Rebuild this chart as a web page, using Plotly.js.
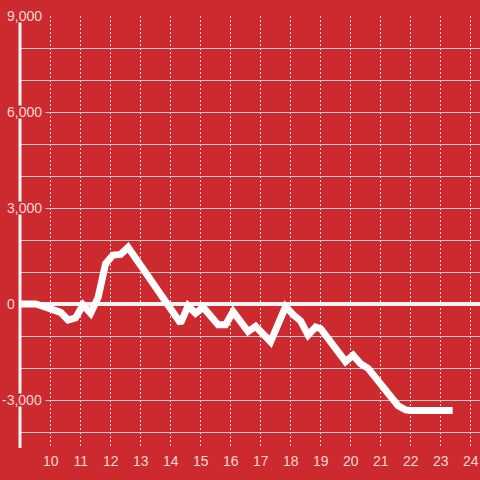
<!DOCTYPE html>
<html>
<head>
<meta charset="utf-8">
<script src="https://cdn.plot.ly/plotly-3.0.1.min.js"></script>
<style>html,body{margin:0;padding:0;background:#cc2a2f;}#chart{width:480px;height:480px;}</style>
</head>
<body>
<div id="chart"></div>
<script>
// Data
const hours = [9.0, 9.5, 9.83, 10.08, 10.33, 10.58, 10.83, 11.08, 11.33, 11.58, 11.83, 12.08, 12.33, 12.58,
  14.33, 14.58, 14.83, 15.08, 15.58, 15.83, 16.08, 16.58, 16.83, 17.33, 17.83, 18.08, 18.33, 18.58,
  18.83, 19.0, 19.83, 20.08, 20.33, 20.58, 21.33, 21.58, 21.83, 22.0, 23.4];
const values = [0, 0, -100, -180, -260, -500, -430, -30, -290, 200, 1260, 1530, 1550, 1770,
  -600, -60, -290, -100, -650, -650, -240, -860, -700, -1180, -80, -330, -530, -970,
  -720, -770, -1800, -1600, -1870, -2010, -2950, -3180, -3310, -3330, -3330];
const xTicks = [10, 11, 12, 13, 14, 15, 16, 17, 18, 19, 20, 21, 22, 23, 24];
const yGrid = [-4000, -3000, -2000, -1000, 0, 1000, 2000, 3000, 4000, 5000, 6000, 7000, 8000, 9000];
const yLabelVals = [-3000, 0, 3000, 6000, 9000];
const yLabelText = ['-3,000', '0', '3,000', '6,000', '9,000'];

const RED = '#cc2a2f';
const TXT = 'rgba(255,240,240,0.88)';

const shapes = [{
  type: 'line', xref: 'paper', yref: 'paper', x0: 0, x1: 0, y0: 0, y1: 1,
  line: {color: '#f4f4f4', width: 3}, layer: 'above'
}];
const annotations = [];
yLabelVals.forEach((v, i) => {
  if (v !== 0) {
    shapes.push({
      type: 'rect', xref: 'paper', yref: 'y', xsizemode: 'pixel', ysizemode: 'pixel',
      xanchor: 0, x0: -20, x1: 25.5, yanchor: v, y0: -6.5, y1: 6.5,
      fillcolor: RED, line: {width: 0}, layer: 'above'
    });
  }
  annotations.push({
    xref: 'paper', yref: 'y', x: 0, y: v, xanchor: 'right', yanchor: 'middle',
    xshift: v === 0 ? -3.7 : 23.3, text: yLabelText[i], showarrow: false,
    font: {family: 'Liberation Sans, Arial, sans-serif', size: 14, color: TXT}, borderpad: 0
  });
});

const trace = {
  x: hours, y: values, type: 'scatter', mode: 'lines',
  line: {color: '#ffffff', width: 7}, hoverinfo: 'skip'
};

const layout = {
  width: 480, height: 480,
  margin: {l: 20, r: 0, t: 16, b: 32},
  paper_bgcolor: RED, plot_bgcolor: RED,
  showlegend: false,
  font: {family: 'Liberation Sans, Arial, sans-serif', size: 14, color: TXT},
  xaxis: {
    range: [8.977, 24.31], tickvals: xTicks, ticktext: xTicks.map(String),
    showgrid: true, gridcolor: '#e2e2e2', gridwidth: 1, griddash: '2px,2px',
    zeroline: false, showline: false, ticks: '', ticklabelstandoff: 3,
    tickfont: {size: 14, color: TXT}
  },
  yaxis: {
    range: [-4500, 9000], tickvals: yGrid, showticklabels: false,
    showgrid: true, gridcolor: '#c9c9c9', gridwidth: 1,
    zeroline: true, zerolinecolor: '#f4f4f4', zerolinewidth: 4,
    showline: false, ticks: ''
  },
  shapes: shapes,
  annotations: annotations
};

Plotly.newPlot('chart', [trace], layout, {displayModeBar: false, staticPlot: true});
</script>
</body>
</html>
